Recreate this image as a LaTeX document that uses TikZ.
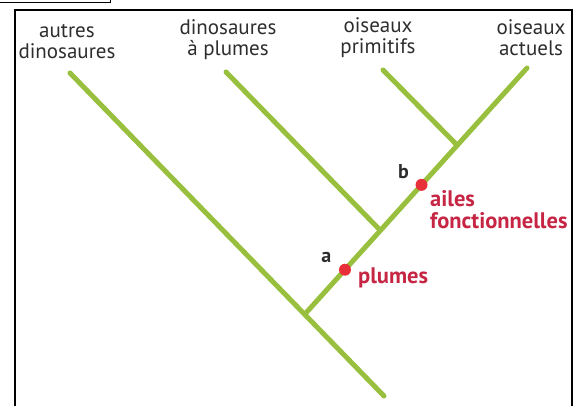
\documentclass[tikz,border=0pt]{standalone}
\usepackage{fontspec}
\setmainfont{PT Sans}
\usepackage{tikz}
\usetikzlibrary{positioning}
\definecolor{BranchGreen}{RGB}{152,192,62}
\definecolor{DotRed}{RGB}{232,48,58}
\definecolor{LabelRed}{RGB}{198,38,68}
\definecolor{TextGray}{RGB}{45,45,45}
\tikzset{
    branch/.style={draw=BranchGreen, line width=5pt, line cap=round},
    taxon/.style={align=center, font=\fontsize{21}{21}\selectfont, text=TextGray, inner sep=0pt},
    trait/.style={circle, fill=DotRed, minimum size=12pt, inner sep=0pt},
    traitlabel/.style={align=left, font=\bfseries\fontsize{22.5}{22}\selectfont, text=LabelRed, inner sep=0pt},
    letter/.style={font=\bfseries\fontsize{20}{20}\selectfont, text=TextGray, inner sep=0pt},
    frameline/.style={draw=black, line width=2.5pt}
}
\begin{document}
\begin{tikzpicture}[x=1pt, y=-1pt]
    \useasboundingbox (0,0) rectangle (581,406);
    \draw[line width=1pt] (0,3) -- (110,3) -- (110,0);
    \draw[frameline] (15,406) -- (15,10) -- (572,10) -- (572,406);

    % tree
    \coordinate (root) at (384,396);
    \coordinate (j1) at (305,314);
    \coordinate (j2) at (378,228);
    \coordinate (j3) at (455,143);
    \coordinate (tipAutres) at (70,73);
    \coordinate (tipPlumes) at (226,72);
    \coordinate (tipPrimitifs) at (383,70);
    \coordinate (tipActuels) at (527,68);

    \draw[branch] (root) -- (tipAutres);
    \draw[branch] (j1) -- (tipActuels);
    \draw[branch] (j2) -- (tipPlumes);
    \draw[branch] (j3) -- (tipPrimitifs);

    % taxa
    \node[taxon] (autres) at (67,42) {autres\\dinosaures};
    \node[taxon] (dinoplumes) at (228,40) {dinosaures\\à plumes};
    \node[taxon] (primitifs) at (378,38) {oiseaux\\primitifs};
    \node[taxon] (actuels) at (531,38) {oiseaux\\actuels};

    % traits
    \path (j1) -- (tipActuels) coordinate[pos=0.18] (pa) coordinate[pos=0.525] (pb);
    \node[trait] (dotA) at (pa) {};
    \node[trait] (dotB) at (pb) {};
    \node[letter, above left=2pt and 9pt of dotA] (la) {a};
    \node[letter, above left=2pt and 8pt of dotB] (lb) {b};
    \node[traitlabel, anchor=west] (plumes) at (358,278) {plumes};
    \node[traitlabel, anchor=west] (ailes) at (430,210) {ailes\\fonctionnelles};
\end{tikzpicture}
\end{document}
